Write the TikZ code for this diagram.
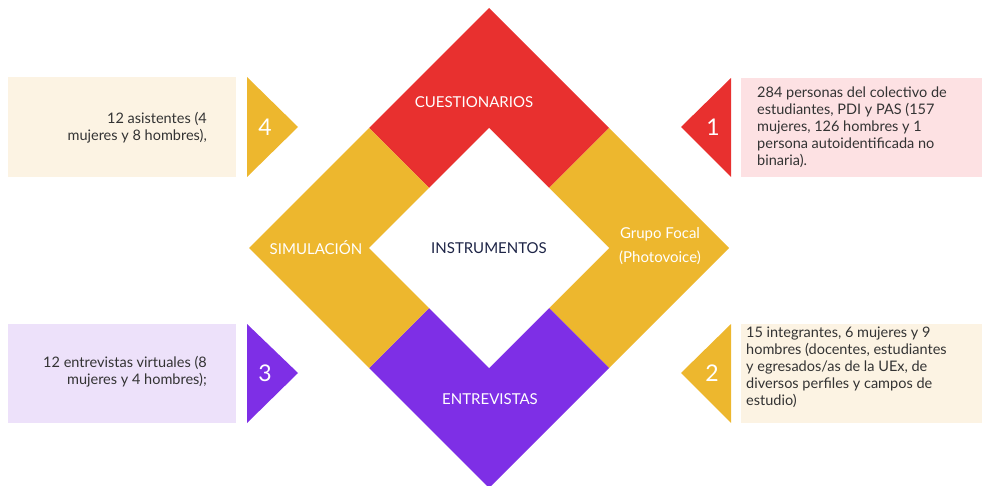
\documentclass[tikz,border=0pt]{standalone}
\usepackage{fontspec}
\setmainfont{Lato}
\usetikzlibrary{positioning}

\definecolor{rojo}{HTML}{E8302F}
\definecolor{amarillo}{HTML}{EDB72E}
\definecolor{morado}{HTML}{7E2FE6}
\definecolor{crema}{HTML}{FCF3E3}
\definecolor{rosa}{HTML}{FDE1E3}
\definecolor{lila}{HTML}{EDE1FA}
\definecolor{tinta}{HTML}{333333}
\definecolor{marino}{HTML}{1E2547}

\tikzset{
  etiqueta/.style={text=white, font=\fontsize{15}{24}\selectfont, inner sep=0pt},
  numero/.style={text=white, font=\fontsize{23}{24}\selectfont, inner sep=0pt},
  detalle/.style={text=tinta, font=\fontsize{14.5}{17}\selectfont, inner sep=0pt},
}

\begin{document}
\begin{tikzpicture}[x=1pt,y=-1pt]
\useasboundingbox (0,0) rectangle (982,486);
\def\cx{489}
\def\cy{248}
\def\ra{120}
\def\rb{240}

% rombo: cuatro cuadrantes y hueco central
\fill[rojo] (\cx,\cy-\rb) -- (\cx+\ra,\cy-\ra) -- (\cx,\cy) -- (\cx-\ra,\cy-\ra) -- cycle;
\fill[amarillo] (\cx+\ra,\cy-\ra) -- (\cx+\rb,\cy) -- (\cx+\ra,\cy+\ra) -- (\cx,\cy) -- cycle;
\fill[morado] (\cx,\cy) -- (\cx+\ra,\cy+\ra) -- (\cx,\cy+\rb) -- (\cx-\ra,\cy+\ra) -- cycle;
\fill[amarillo] (\cx-\ra,\cy-\ra) -- (\cx,\cy) -- (\cx-\ra,\cy+\ra) -- (\cx-\rb,\cy) -- cycle;
\fill[white] (\cx,\cy-\ra) -- (\cx+\ra,\cy) -- (\cx,\cy+\ra) -- (\cx-\ra,\cy) -- cycle;

\node[etiqueta] (cues) at (474,102) {CUESTIONARIOS};
\node[etiqueta] (simu) at (316,248) {SIMULACIÓN};
\node[etiqueta, align=center] (foco) at (660,246) {Grupo Focal\\(Photovoice)};
\node[etiqueta] (entr) at (490,399) {ENTREVISTAS};
\node[etiqueta, text=marino] (inst) at (\cx,\cy) {INSTRUMENTOS};

% cajas laterales
\fill[crema] (8,77) rectangle (236,177);
\fill[amarillo] (247,77) -- (298,127) -- (247,177) -- cycle;
\fill[rosa] (741,78) rectangle (982,177);
\fill[rojo] (731,78) -- (681,127) -- (731,177) -- cycle;
\fill[lila] (8,324) rectangle (236,423);
\fill[morado] (247,324) -- (298,373) -- (247,423) -- cycle;
\fill[crema] (741,324) rectangle (982,423);
\fill[amarillo] (731,324) -- (681,373) -- (731,423) -- cycle;

\node[numero] (n4) at (265,127) {4};
\node[numero] (n1) at (713,127) {1};
\node[numero] (n3) at (265,373) {3};
\node[numero] (n2) at (712,373) {2};

\node[detalle, anchor=east, align=right] (t4) at (207,128)
  {12 asistentes (4\\mujeres y 8 hombres),};
\node[detalle, anchor=west, align=left] (t1) at (757,127)
  {284 personas del colectivo de\\estudiantes, PDI y PAS (157\\mujeres, 126 hombres y 1\\persona autoidentificada no\\binaria).};
\node[detalle, anchor=east, align=right] (t3) at (207,372)
  {12 entrevistas virtuales (8\\mujeres y 4 hombres);};
\node[detalle, anchor=west, align=left] (t2) at (746,367)
  {15 integrantes, 6 mujeres y 9\\hombres (docentes, estudiantes\\y egresados/as de la UEx, de\\diversos perfiles y campos de\\estudio)};

\end{tikzpicture}
\end{document}
